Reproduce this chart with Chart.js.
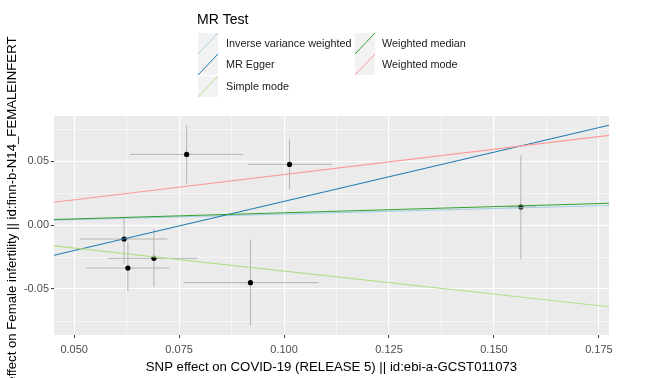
<!DOCTYPE html>
<html>
<head>
<meta charset="utf-8">
<script src="https://cdn.jsdelivr.net/npm/chart.js@4.4.1/dist/chart.umd.min.js"></script>
<style>
html,body{margin:0;padding:0;background:#fff;}
#wrap{width:660px;height:378px;position:relative;}
</style>
</head>
<body>
<div id="wrap"><canvas id="c" width="660" height="378"></canvas></div>
<script>
// ---- data ----
const xMajor = [0.05, 0.075, 0.1, 0.125, 0.15, 0.175];
const xMinor = [0.0625, 0.0875, 0.1125, 0.1375, 0.1625];
const yMajor = [-0.05, 0.0, 0.05];
const yMinor = [-0.075, -0.025, 0.025, 0.075];
const xLimits = [0.0452, 0.1774];
const yLimits = [-0.0859, 0.0852];

const snpX   = [0.0768, 0.1013, 0.0619, 0.0628, 0.0690, 0.0920, 0.1564];
const snpY   = [0.0552, 0.0474, -0.0109, -0.0336, -0.0260, -0.0450, 0.0141];
const snpXlo = [0.0633, 0.0913, 0.0515, 0.0529, 0.0582, 0.0760, 0.1530];
const snpXhi = [0.0902, 0.1114, 0.0722, 0.0726, 0.0794, 0.1082, 0.1600];
const snpYlo = [0.0326, 0.0279, -0.0302, -0.0516, -0.0481, -0.0784, -0.0268];
const snpYhi = [0.0781, 0.0669, 0.0058, -0.0135, -0.0034, -0.0112, 0.0545];

const methods    = ["Inverse variance weighted", "MR Egger", "Simple mode", "Weighted median", "Weighted mode"];
const slopes     = [0.086, 0.7686, -0.36, 0.096, 0.395];
const intercepts = [0, -0.0584, 0, 0, 0];
const colors     = ["#a6cee3", "#1f78b4", "#b2df8a", "#33a02c", "#fb9a99"];

const xTitle = "SNP effect on COVID-19 (RELEASE 5) || id:ebi-a-GCST011073";
const yTitle = "SNP effect on Female infertility || id:finn-b-N14_FEMALEINFERT";
const legendTitle = "MR Test";

const FONT = '"Liberation Sans", Arial, Helvetica, sans-serif';
const isMajor = (arr, v) => arr.some(m => Math.abs(m - v) < 1e-9);

// ---- datasets ----
const datasets = [];
methods.forEach((m, i) => {
  datasets.push({
    label: m,
    data: xLimits.map(x => ({x: x, y: intercepts[i] + slopes[i] * x})),
    showLine: true,
    borderColor: colors[i],
    borderWidth: 1.1,
    pointRadius: 0,
    fill: false,
    order: methods.length - i
  });
});
datasets.push({
  label: "SNPs",
  data: snpX.map((x, i) => ({x: x, y: snpY[i]})),
  showLine: false,
  pointRadius: 2.6,
  pointBackgroundColor: "#000",
  pointBorderColor: "#000",
  pointBorderWidth: 0,
  order: 10
});

const bgPlugin = {
  id: "bg",
  beforeDraw(chart) {
    const {ctx, chartArea: a} = chart;
    ctx.save();
    ctx.fillStyle = "#ebebeb";
    ctx.fillRect(a.left, a.top, a.right - a.left, a.bottom - a.top);
    ctx.restore();
  },
  beforeDatasetsDraw(chart) {
    const {ctx, chartArea: a, scales: {x, y}} = chart;
    ctx.save();
    ctx.beginPath();
    ctx.rect(a.left, a.top, a.right - a.left, a.bottom - a.top);
    ctx.clip();
    ctx.strokeStyle = "#b4b4b4";
    ctx.lineWidth = 1;
    for (let i = 0; i < snpX.length; i++) {
      const px = x.getPixelForValue(snpX[i]), py = y.getPixelForValue(snpY[i]);
      ctx.beginPath();
      ctx.moveTo(x.getPixelForValue(snpXlo[i]), py);
      ctx.lineTo(x.getPixelForValue(snpXhi[i]), py);
      ctx.moveTo(px, y.getPixelForValue(snpYlo[i]));
      ctx.lineTo(px, y.getPixelForValue(snpYhi[i]));
      ctx.stroke();
    }
    ctx.restore();
  },
  afterDraw(chart) {
    const {ctx, chartArea: a} = chart;
    ctx.save();
    ctx.fillStyle = "#000";
    ctx.font = "13.2px " + FONT;
    ctx.textAlign = "center";
    ctx.textBaseline = "middle";
    ctx.fillText(xTitle, (a.left + a.right) / 2, 367);
    ctx.save();
    ctx.translate(12, (a.top + a.bottom) / 2);
    ctx.rotate(-Math.PI / 2);
    ctx.fillText(yTitle, 0, 0);
    ctx.restore();

    // legend
    ctx.textAlign = "left";
    ctx.font = "14px " + FONT;
    ctx.fillStyle = "#000";
    ctx.fillText(legendTitle, 197, 20);
    ctx.font = "10.8px " + FONT;
    const cols = [{kx: 198, tx: 226}, {kx: 355, tx: 382}];
    const rowTop = [33, 54, 76];
    const keyW = 20, keyH = 21;
    methods.forEach((m, i) => {
      const c = i < 3 ? cols[0] : cols[1];
      const r = i < 3 ? i : i - 3;
      const top = rowTop[r];
      ctx.fillStyle = "#f2f2f2";
      ctx.fillRect(c.kx, top, keyW, keyH);
      ctx.strokeStyle = colors[i];
      ctx.lineWidth = 1;
      ctx.beginPath();
      ctx.moveTo(c.kx, top + keyH);
      ctx.lineTo(c.kx + keyW, top);
      ctx.stroke();
      ctx.fillStyle = "#1a1a1a";
      ctx.fillText(m, c.tx, top + keyH / 2 + 0.5);
    });
    ctx.restore();
  }
};

new Chart(document.getElementById("c"), {
  type: "scatter",
  data: {datasets},
  options: {
    responsive: false,
    animation: false,
    events: [],
    layout: {padding: {top: 116, right: 51, left: 0, bottom: 0}},
    plugins: {legend: {display: false}, tooltip: {enabled: false}},
    scales: {
      x: {
        type: "linear",
        min: xLimits[0], max: xLimits[1],
        afterBuildTicks(s) { s.ticks = xMajor.concat(xMinor).sort((p, q) => p - q).map(v => ({value: v})); },
        afterFit(s) { s.height = 43; },
        border: {display: false},
        grid: {
          color: "#ffffff",
          lineWidth: c => isMajor(xMajor, c.tick.value) ? 1.1 : 0.55,
          tickColor: c => isMajor(xMajor, c.tick.value) ? "#333333" : "rgba(0,0,0,0)",
          tickLength: 3,
          tickWidth: 1
        },
        ticks: {
          autoSkip: false, maxRotation: 0, padding: 5,
          color: "#4d4d4d", font: {family: FONT, size: 11},
          callback: v => isMajor(xMajor, v) ? v.toFixed(3) : ""
        }
      },
      y: {
        type: "linear",
        min: yLimits[0], max: yLimits[1],
        afterBuildTicks(s) { s.ticks = yMajor.concat(yMinor).sort((p, q) => p - q).map(v => ({value: v})); },
        afterFit(s) { s.width = 54; },
        border: {display: false},
        grid: {
          color: "#ffffff",
          lineWidth: c => isMajor(yMajor, c.tick.value) ? 1.1 : 0.55,
          tickColor: c => isMajor(yMajor, c.tick.value) ? "#333333" : "rgba(0,0,0,0)",
          tickLength: 3,
          tickWidth: 1
        },
        ticks: {
          autoSkip: false, padding: 2,
          color: "#4d4d4d", font: {family: FONT, size: 11},
          callback: v => isMajor(yMajor, v) ? v.toFixed(2) : ""
        }
      }
    }
  },
  plugins: [bgPlugin]
});
</script>
</body>
</html>
